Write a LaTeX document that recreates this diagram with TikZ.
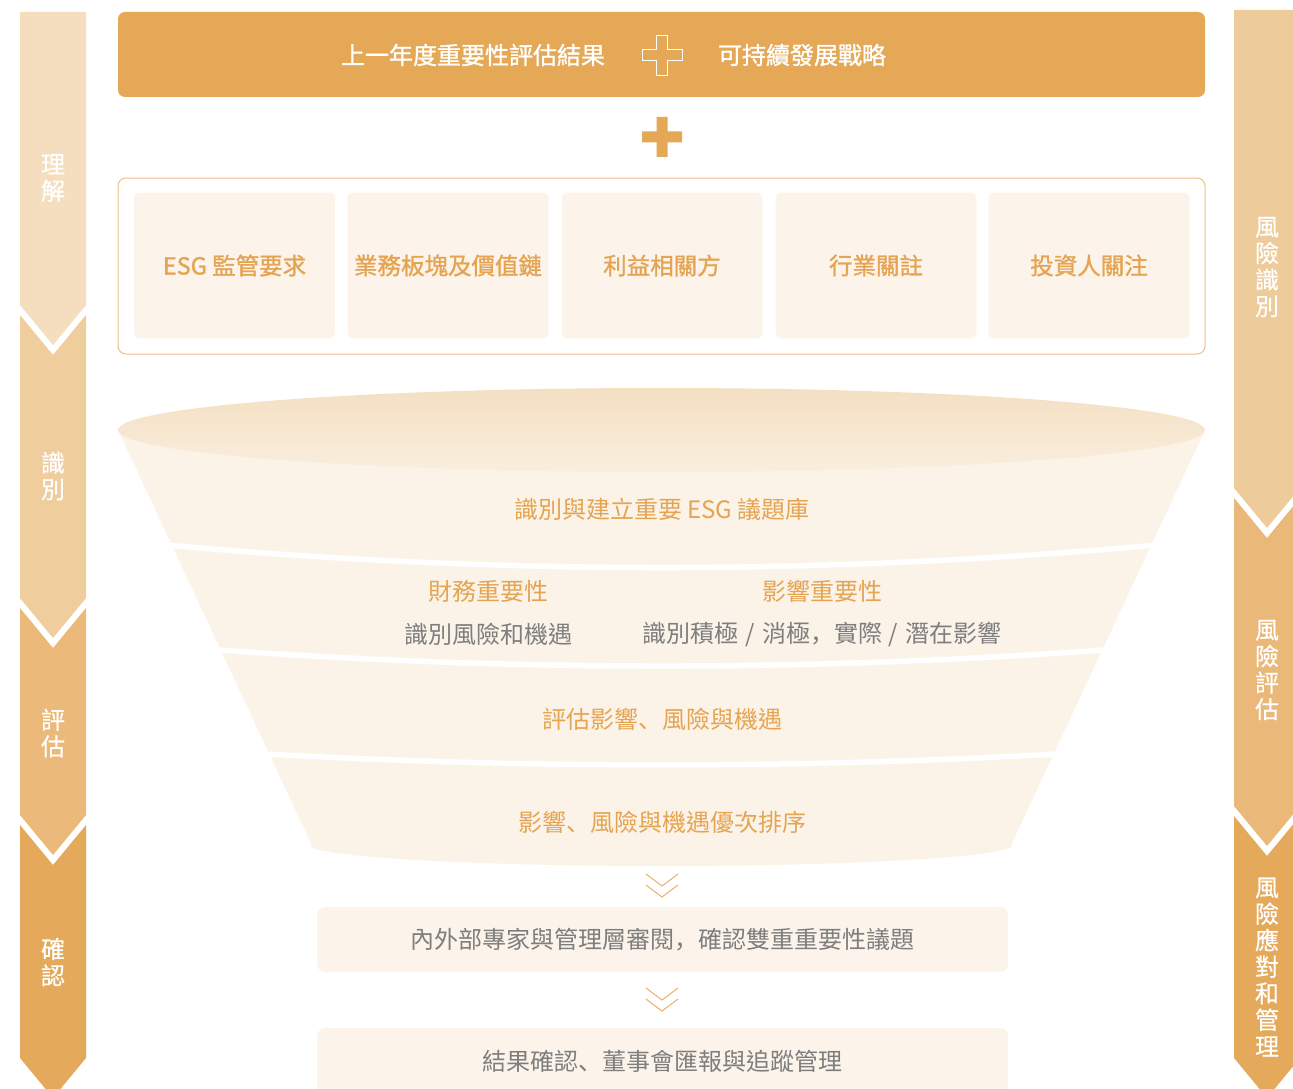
\documentclass[tikz,border=0pt]{standalone}
\usepackage{fontspec}
\setmainfont{Noto Sans CJK TC}
\newfontfamily\medfont[FakeBold=1.2]{Noto Sans CJK TC}
\newfontfamily\sidefont[FakeBold=0.5]{Noto Sans CJK TC}
\newfontfamily\scpunct{Noto Sans CJK SC}
\newcommand{\pcomma}{{\scpunct ，}}
\newcommand{\pdun}{{\scpunct 、}}
\definecolor{barOr}{HTML}{E4A857}
\definecolor{txtOr}{HTML}{E5A452}
\definecolor{txtGr}{HTML}{7E7E7E}
\definecolor{boxBg}{HTML}{FCF4EA}
\definecolor{funBg}{HTML}{FBF3E8}
\definecolor{ellTop}{HTML}{F4DFC2}
\definecolor{ellBot}{HTML}{F9EEDE}
\definecolor{frameC}{HTML}{EDBF85}
\definecolor{chevC}{HTML}{EBB57A}
\definecolor{lA}{HTML}{F5DEBD}
\definecolor{lB}{HTML}{F0CD9D}
\definecolor{lC}{HTML}{EBBA7B}
\definecolor{lD}{HTML}{E4A95A}
\definecolor{rA}{HTML}{EECB9B}
\definecolor{rB}{HTML}{EAB879}
\definecolor{rC}{HTML}{E4A95A}
\begin{document}
\begin{tikzpicture}[x=1pt,y=-1pt,
  sidelbl/.style={text=white, font=\sidefont\fontsize{24}{26.5}\selectfont, align=center, inner sep=0pt},
  bartxt/.style={text=white, font=\medfont\fontsize{24}{28}\selectfont, inner sep=0pt},
  card/.style={fill=boxBg, rounded corners=6pt, minimum width=201, minimum height=146, inner sep=0pt,
    text=txtOr, font=\medfont\fontsize{23.5}{28}\selectfont},
  orlbl/.style={text=txtOr, font=\fontsize{24}{28}\selectfont, inner sep=0pt},
  grlbl/.style={text=txtGr, font=\fontsize{24}{28}\selectfont, inner sep=0pt},
  stepbox/.style={fill=boxBg, rounded corners=8pt, minimum width=691, inner sep=0pt,
    text=txtGr, font=\fontsize{24}{28}\selectfont},
  chevline/.style={draw=chevC, line width=1.1pt},
  band/.style={draw=white, line width=5.5pt},
  plusp/.pic={\path[pic actions] (-5.5,-20) -- (5.5,-20) -- (5.5,-5.5) -- (20,-5.5) -- (20,5.5) -- (5.5,5.5) -- (5.5,20) -- (-5.5,20) -- (-5.5,5.5) -- (-20,5.5) -- (-20,-5.5) -- (-5.5,-5.5) -- cycle;}
]
\useasboundingbox (0,0) rectangle (1293,1089);
\clip (0,0) rectangle (1293,1089);

% ---------- left process column ----------
\fill[lA] (20,12) -- (86,12) -- (86,305) -- (53,345) -- (20,305) -- cycle;
\fill[lB] (20,315) -- (53,355) -- (86,315) -- (86,598) -- (53,638) -- (20,598) -- cycle;
\fill[lC] (20,608) -- (53,648) -- (86,608) -- (86,815) -- (53,855) -- (20,815) -- cycle;
\fill[lD] (20,825) -- (53,865) -- (86,825) -- (86,1058) -- (53,1098) -- (20,1058) -- cycle;
\node[sidelbl] (l1) at (53,178) {理\\解};
\node[sidelbl] (l2) at (53,476) {識\\別};
\node[sidelbl] (l3) at (53,733) {評\\估};
\node[sidelbl] (l4) at (53,962) {確\\認};

% ---------- right process column ----------
\fill[rA] (1234,10) -- (1300,10) -- (1300,488) -- (1267,528) -- (1234,488) -- cycle;
\fill[rB] (1234,498) -- (1267,538) -- (1300,498) -- (1300,806) -- (1267,846) -- (1234,806) -- cycle;
\fill[rC] (1234,816) -- (1267,856) -- (1300,816) -- (1300,1058) -- (1267,1098) -- (1234,1058) -- cycle;
\node[sidelbl] (r1) at (1267,267) {風\\險\\識\\別};
\node[sidelbl] (r2) at (1267,670) {風\\險\\評\\估};
\node[sidelbl] (r3) at (1267,967) {風\\險\\應\\對\\和\\管\\理};

% ---------- top bar ----------
\node[fill=barOr, rounded corners=7pt, minimum width=1087, minimum height=85, inner sep=0pt] (bar) at (661.5,54.5) {};
\node[bartxt] (barL) at (473,55) {上一年度重要性評估結果};
\node[bartxt] (barR) at (802,55) {可持續發展戰略};
\pic[draw=white, line width=0.9pt] (plusA) at (662,55) {plusp};
\pic[fill=barOr] (plusB) at (662,137) {plusp};

% ---------- input panel ----------
\node[draw=frameC, line width=1pt, rounded corners=8pt, minimum width=1087, minimum height=176, inner sep=0pt] (panel) at (661.5,266) {};
\node[card] (c1) at (234.5,265.5) {ESG 監管要求};
\node[card] (c2) at (448,265.5) {業務板塊及價值鏈};
\node[card] (c3) at (662,265.5) {利益相關方};
\node[card] (c4) at (876,265.5) {行業關註};
\node[card] (c5) at (1089,265.5) {投資人關注};

% ---------- funnel ----------
\fill[funBg] (118,430) -- (1205,430) -- (1011.2,845) -- (311.8,845) -- cycle;
\fill[funBg] (310,845) .. controls (310,856.6) and (467.4,866) .. (661.5,866)
  .. controls (855.6,866) and (1013,856.6) .. (1013,845) -- cycle;
\shade[top color=ellTop, bottom color=ellBot] (661.5,430) ellipse [x radius=543.5pt, y radius=42pt];
\draw[band] (141.5,542.7) .. controls (488.2,575.8) and (834.8,575.8) .. (1181.5,542.7);
\draw[band] (190.5,647.8) .. controls (504.5,672.1) and (818.5,672.1) .. (1132.5,647.8);
\draw[band] (236.5,752.3) .. controls (519.8,769.2) and (803.2,769.2) .. (1086.5,752.3);

\node[orlbl] (f1) at (662,509) {識別與建立重要 ESG 議題庫};
\node[orlbl] (f2a) at (488,591) {財務重要性};
\node[grlbl] (f2b) at (488,634) {識別風險和機遇};
\node[orlbl] (f2c) at (822,591) {影響重要性};
\node[grlbl] (f2d) at (822,634) {識別積極\hspace{1.5pt} / \hspace{1.5pt}消極\pcomma 實際\hspace{1.5pt} / \hspace{1.5pt}潛在影響};
\node[orlbl] (f3) at (662,719) {評估影響\pdun 風險與機遇};
\node[orlbl] (f4) at (662,822) {影響\pdun 風險與機遇優次排序};

% ---------- confirmation steps ----------
\node[stepbox, minimum height=65] (s1) at (662.5,939.5) {內外部專家與管理層審閱\pcomma 確認雙重重要性議題};
\node[stepbox, minimum height=66] (s2) at (662.5,1061) {結果確認\pdun 董事會匯報與追蹤管理};

\coordinate (k1) at (662,874);
\coordinate (k2) at (662,988);
\draw[chevline] ([xshift=-16]k1) -- ([yshift=-12]k1) -- ([xshift=16]k1);
\draw[chevline] ([xshift=-16,yshift=-11]k1) -- ([yshift=-23]k1) -- ([xshift=16,yshift=-11]k1);
\draw[chevline] ([xshift=-16]k2) -- ([yshift=-12]k2) -- ([xshift=16]k2);
\draw[chevline] ([xshift=-16,yshift=-11]k2) -- ([yshift=-23]k2) -- ([xshift=16,yshift=-11]k2);
\end{tikzpicture}
\end{document}
